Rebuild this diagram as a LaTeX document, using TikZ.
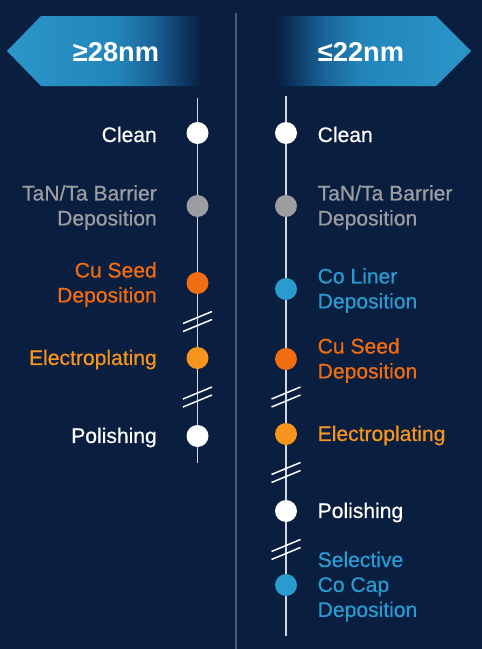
\documentclass[tikz,border=0pt]{standalone}
\usepackage{fontspec}
\setmainfont{Liberation Sans}
\newfontface\stepfont{Liberation Sans}[FakeBold=0.6]
\usetikzlibrary{positioning}
\definecolor{navy}{HTML}{0A1E3F}
\definecolor{barblue}{HTML}{2B96C9}
\definecolor{barmid}{HTML}{2285BA}
\definecolor{bardeep}{HTML}{1A6498}
\definecolor{bardark}{HTML}{0F3A66}
\definecolor{stepgray}{HTML}{9B9DA1}
\definecolor{seedorange}{HTML}{F26D10}
\definecolor{plateorange}{HTML}{F7941D}
\definecolor{coblue}{HTML}{2A9BD1}
\definecolor{railgray}{HTML}{D3D8E1}
\definecolor{splitgray}{HTML}{4A5A78}
\pgfdeclarehorizontalshading{leftbar}{100bp}{color(0bp)=(barblue); color(25bp)=(barblue); color(52bp)=(barmid); color(61bp)=(bardeep); color(68bp)=(bardark); color(73bp)=(navy); color(100bp)=(navy)}
\pgfdeclarehorizontalshading{rightbar}{100bp}{color(0bp)=(navy); color(27bp)=(navy); color(32bp)=(bardark); color(39bp)=(bardeep); color(48bp)=(barmid); color(75bp)=(barblue); color(100bp)=(barblue)}
\newcommand{\stepdot}[4]{
  \node[stepdot, fill=#4] (#1) at (#2,#3) {};
}
\newcommand{\railbreak}[3]{
  \coordinate (#1) at (#2,#3);
  \draw[breakline] ([shift={(-14.5,2)}]#1) -- ([shift={(14.5,-10)}]#1);
  \draw[breakline] ([shift={(-14.5,10)}]#1) -- ([shift={(14.5,-2)}]#1);
}
\tikzset{
  stepdot/.style   = {circle, minimum size=0.44cm, inner sep=0pt},
  steptext/.style  = {font=\stepfont\fontsize{12}{14.2}\selectfont, inner sep=0pt, yshift=-0.03cm},
  headtext/.style  = {font=\fontsize{15.5}{18}\selectfont\bfseries, text=white, inner sep=0pt},
  rail/.style      = {draw=railgray, line width=0.85pt},
  breakline/.style = {draw=white, line width=0.85pt},
  node distance    = 0.58cm
}
\begin{document}
\begin{tikzpicture}[x=0.02cm, y=-0.02cm]
  \fill[navy] (0,0) rectangle (482,649);
  \useasboundingbox (0,0) rectangle (482,649);
  % banners
  \shade[shading=leftbar] (7,51) -- (41,16) -- (210,16) -- (210,86) -- (41,86) -- cycle;
  \shade[shading=rightbar] (471,51) -- (436,16) -- (268,16) -- (268,86) -- (436,86) -- cycle;
  \node[headtext] (lhead) at (116,52) {≥28nm};
  \node[headtext] (rhead) at (361,52) {≤22nm};
  \draw[splitgray, line width=0.6pt] (236,13) -- (236,649);
  % left flow
  \coordinate (ltop) at (197.5,98);
  \coordinate (lbot) at (197.5,463);
  \draw[rail] (ltop) -- (lbot);
  \railbreak{lbreaka}{197.5}{321.5}
  \railbreak{lbreakb}{197.5}{397}
  \stepdot{lclean}{197.5}{133}{white}
  \stepdot{lbarrier}{197.5}{206}{stepgray}
  \stepdot{lseed}{197.5}{283}{seedorange}
  \stepdot{lplate}{197.5}{358}{plateorange}
  \stepdot{lpolish}{197.5}{436}{white}
  \node[steptext, text=white, left=of lclean] (lcleantext) {Clean};
  \node[steptext, text=stepgray, align=right, left=of lbarrier] (lbarriertext) {TaN/Ta Barrier\\Deposition};
  \node[steptext, text=seedorange, align=right, left=of lseed] (lseedtext) {Cu Seed\\Deposition};
  \node[steptext, text=plateorange, left=of lplate] (lplatetext) {Electroplating};
  \node[steptext, text=white, left=of lpolish] (lpolishtext) {Polishing};
  % right flow
  \tikzset{node distance=0.4cm}
  \coordinate (rtop) at (286,96);
  \coordinate (rbot) at (286,636);
  \draw[rail] (rtop) -- (rbot);
  \railbreak{rbreaka}{286}{397}
  \railbreak{rbreakb}{286}{472.5}
  \railbreak{rbreakc}{286}{549.5}
  \stepdot{rclean}{286}{133}{white}
  \stepdot{rbarrier}{286}{206}{stepgray}
  \stepdot{rliner}{286}{289}{coblue}
  \stepdot{rseed}{286}{359}{seedorange}
  \stepdot{rplate}{286}{434}{plateorange}
  \stepdot{rpolish}{286}{511}{white}
  \stepdot{rcap}{286}{585}{coblue}
  \node[steptext, text=white, right=of rclean] (rcleantext) {Clean};
  \node[steptext, text=stepgray, align=left, right=of rbarrier] (rbarriertext) {TaN/Ta Barrier\\Deposition};
  \node[steptext, text=coblue, align=left, right=of rliner] (rlinertext) {Co Liner\\Deposition};
  \node[steptext, text=seedorange, align=left, right=of rseed] (rseedtext) {Cu Seed\\Deposition};
  \node[steptext, text=plateorange, right=of rplate] (rplatetext) {Electroplating};
  \node[steptext, text=white, right=of rpolish] (rpolishtext) {Polishing};
  \node[steptext, text=coblue, align=left, right=of rcap] (rcaptext) {Selective\\Co Cap\\Deposition};
\end{tikzpicture}
\end{document}
